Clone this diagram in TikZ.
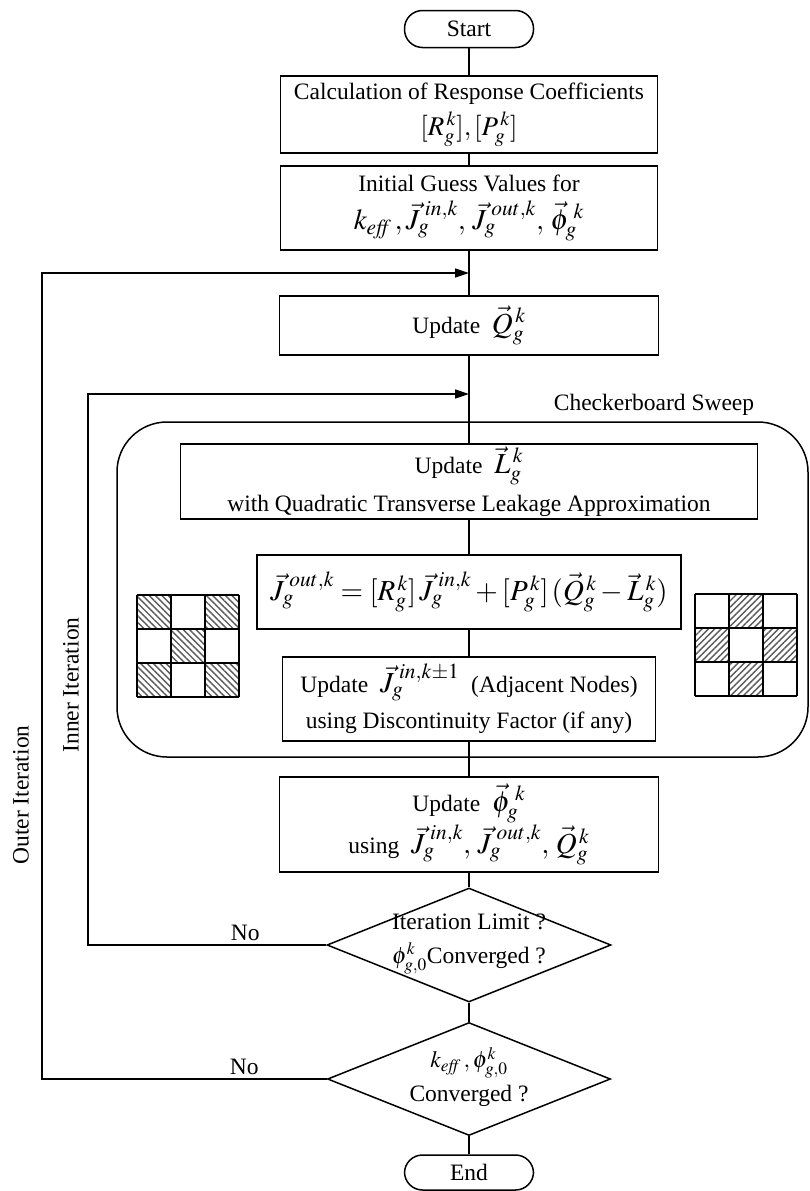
\documentclass[tikz,border=0pt]{standalone}
\usepackage{mathptmx}
\usepackage{fontspec}
\setmainfont{Liberation Serif}
\usetikzlibrary{shapes.geometric,arrows.meta,patterns.meta}
\newcommand{\mth}[1]{{\fontsize{29}{34}\selectfont$#1$}}
\newcommand{\mthb}[1]{{\fontsize{27}{32}\selectfont$#1$}}
\begin{document}
\begin{tikzpicture}[x=1pt,y=-1pt,
  every node/.style={font=\fontsize{23.5}{34}\selectfont, inner sep=0pt},
  box/.style={draw, line width=1.5pt, align=center},
  term/.style={draw, line width=1.5pt, rounded corners=18pt, minimum width=129pt, minimum height=37pt},
  dia/.style={draw, diamond, line width=1.5pt},
  conn/.style={line width=1.5pt},
  arr/.style={line width=1.5pt, -{Triangle[length=14pt,width=9pt]}},
  lhatch/.style={pattern={Lines[angle=-45,distance=4.5pt,line width=1.4pt]}, pattern color=black!65},
  rhatch/.style={pattern={Lines[angle=45,distance=4.5pt,line width=1.4pt]}, pattern color=black!65}]
\useasboundingbox (0,0) rectangle (810,1191);

% nodes
\node[term] (start) at (469,29) {Start};
\node[box, minimum width=377pt, minimum height=77pt] (b1) at (469,114.5)
  {Calculation of Response Coefficients\\[2pt] \mthb{[R_g^{\,k}],[P_g^{\,k}]}};
\node[box, minimum width=377pt, minimum height=84pt] (b2) at (469,208)
  {Initial Guess Values for\\[4pt] \mth{k_{\mathit{eff}}\,,\vec J_g^{\;in,k},\,\vec J_g^{\;out,k},\,\vec\phi_g^{\;k}}};
\node[box, minimum width=379pt, minimum height=59pt] (b3) at (469,325.5)
  {Update\ \ \mth{\vec Q_g^{\,k}}};
\node[draw, line width=1.5pt, rounded corners=50pt, minimum width=691pt, minimum height=335pt] (sweep) at (462.5,589.5) {};
\node (cbl) at (654,405) {Checkerboard Sweep};
\node[box, minimum width=577pt, minimum height=75pt] (b4) at (469,481.5)
  {Update\ \ \mth{\vec L_g^{\,k}}\\[4pt] with Quadratic Transverse Leakage Approximation};
\node[box, minimum width=424pt, minimum height=74pt] (b5) at (469,592)
  {\mth{\vec J_g^{\;out,k}=[R_g^{\,k}]\,\vec J_g^{\;in,k}+[P_g^{\,k}]\,(\vec Q_g^{\,k}-\vec L_g^{\,k})}};
\node[box, minimum width=373pt, minimum height=84pt] (b6) at (469,699)
  {Update\ \ \mth{\vec J_g^{\;in,k\pm1}}\ \ (Adjacent Nodes)\\[2pt] using Discontinuity Factor (if any)};
\node[box, minimum width=379pt, minimum height=95pt] (b7) at (469,824.5)
  {Update\ \ \mth{\vec\phi_g^{\;k}}\\[1pt] using\ \ \mth{\vec J_g^{\;in,k},\,\vec J_g^{\;out,k},\,\vec Q_g^{\,k}}};
\node[dia, minimum width=284pt, minimum height=114pt] (d1) at (469,945) {};
\node[align=center] (d1t) at (469,944) {Iteration Limit ?\\ $\phi_{g,0}^k$Converged ?};
\node[dia, minimum width=283pt, minimum height=113pt] (d2) at (469,1079) {};
\node[align=center] (d2t) at (469,1077) {$k_{\mathit{eff}}\,,\phi_{g,0}^k$\\ Converged ?};
\node[term, minimum height=35pt] (end) at (469,1172.5) {End};

\node[rotate=90] (outerlbl) at (21,795) {Outer Iteration};
\node[rotate=90] (innerlbl) at (71,685) {Inner Iteration};

\coordinate (oj) at (469,273);
\coordinate (ij) at (469,394);
\coordinate (il) at (88,945);
\coordinate (ol) at (42,1079);

% connectors
\draw[conn] (start) -- (b1);
\draw[conn] (b1) -- (b2);
\draw[conn] (b2) -- (b3);
\draw[conn] (b3) -- (b4);
\draw[conn] (b4) -- (b5);
\draw[conn] (b5) -- (b6);
\draw[conn] (b6) -- (b7);
\draw[conn] (b7) -- (d1);
\draw[conn] (d1) -- (d2);
\draw[conn] (d2) -- (end);
\draw[arr] (d1.west) -- node[pos=0.34, above=4pt]{No} (il) |- (ij);
\draw[arr] (d2.west) -- node[pos=0.29, above=4pt]{No} (ol) |- (oj);

% checkerboards
\foreach \i/\j in {0/0,2/0,1/1,0/2,2/2}
  \fill[lhatch] (137+\i*34,595+\j*34) rectangle ++(34,34);
\foreach \k in {0,...,3} {
  \draw[conn] (137+\k*34,595) -- ++(0,102);
  \draw[conn] (137,595+\k*34) -- ++(102,0);
}
\foreach \i/\j in {1/0,0/1,2/1,1/2}
  \fill[rhatch] (695+\i*34,594+\j*34) rectangle ++(34,34);
\foreach \k in {0,...,3} {
  \draw[conn] (695+\k*34,594) -- ++(0,102);
  \draw[conn] (695,594+\k*34) -- ++(102,0);
}
\end{tikzpicture}
\end{document}
